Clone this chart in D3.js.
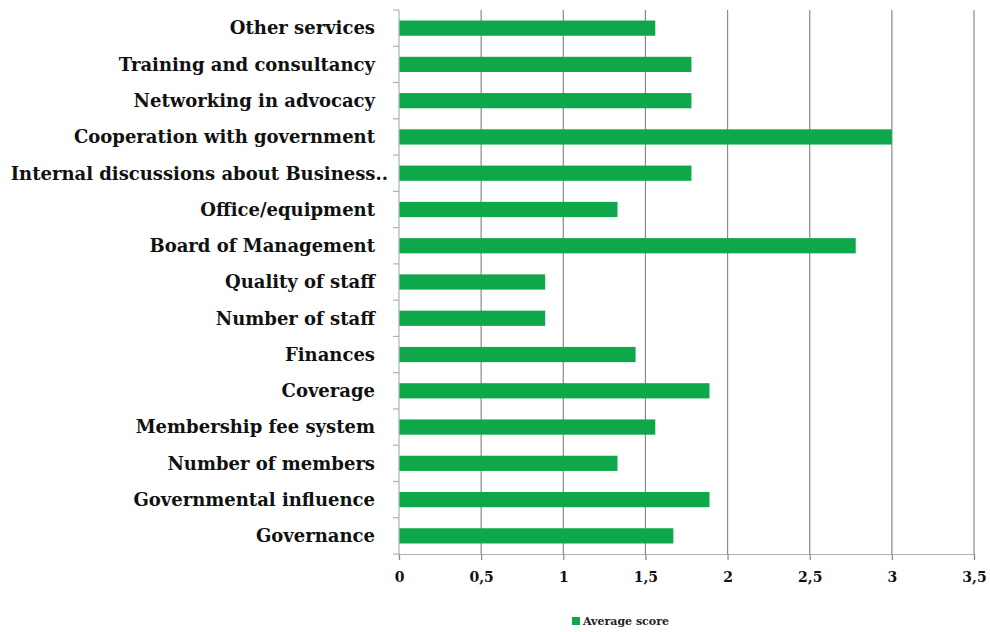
<!DOCTYPE html>
<html>
<head>
<meta charset="utf-8">
<script src="https://cdn.jsdelivr.net/npm/d3@7"></script>
<style>
  html, body { margin: 0; padding: 0; background: #fff; }
  svg { display: block; }
</style>
</head>
<body>
<div id="chart"></div>
<script>
// categories top to bottom as drawn
const categories = [
  'Other services',
  'Training and consultancy',
  'Networking in advocacy',
  'Cooperation with government',
  'Internal discussions about Business..',
  'Office/equipment',
  'Board of Management',
  'Quality of staff',
  'Number of staff',
  'Finances',
  'Coverage',
  'Membership fee system',
  'Number of members',
  'Governmental influence',
  'Governance'
];
const averageScore = [1.56, 1.78, 1.78, 3.0, 1.78, 1.33, 2.78, 0.89, 0.89, 1.44, 1.89, 1.56, 1.33, 1.89, 1.67];
const xTicks = [0, 0.5, 1, 1.5, 2, 2.5, 3, 3.5];
const seriesName = 'Average score';

const W = 990, H = 632;
const margin = { top: 10, right: 16, bottom: 78, left: 399 };
const green = '#0ea84a';
const serif = '"DejaVu Serif", "Liberation Serif", serif';

const svg = d3.select('#chart').append('svg')
  .attr('width', W)
  .attr('height', H);

const x = d3.scaleLinear()
  .domain([0, 3.5])
  .range([margin.left, W - margin.right]);

const y = d3.scaleBand()
  .domain(categories)
  .range([margin.top, H - margin.bottom])
  .paddingInner(0.58)
  .paddingOuter(0.29);

const yStep = y.step();
const plotBottom = H - margin.bottom;

// vertical gridlines
svg.append('g')
  .selectAll('line')
  .data(xTicks.filter(d => d > 0))
  .enter().append('line')
  .attr('x1', d => x(d)).attr('x2', d => x(d))
  .attr('y1', margin.top).attr('y2', plotBottom)
  .attr('stroke', '#8a8a8a')
  .attr('stroke-width', 1.2);

// bars
svg.append('g')
  .selectAll('rect')
  .data(categories.map((c, i) => ({ label: c, value: averageScore[i] })))
  .enter().append('rect')
  .attr('x', x(0))
  .attr('y', d => y(d.label))
  .attr('width', d => x(d.value) - x(0))
  .attr('height', y.bandwidth())
  .attr('fill', green);

// x axis
const xAxis = svg.append('g')
  .attr('transform', `translate(0,${plotBottom})`)
  .call(d3.axisBottom(x).tickValues(xTicks).tickSize(6).tickPadding(12)
    .tickFormat(d => String(d).replace('.', ',')));
xAxis.select('.domain').attr('stroke', '#a9b4bc').attr('stroke-width', 1.2);
xAxis.selectAll('.tick line').attr('stroke', '#8a8a8a').attr('stroke-width', 1.2);
xAxis.selectAll('.tick text')
  .attr('font-family', serif)
  .attr('font-weight', 'bold')
  .attr('font-size', 14)
  .attr('fill', '#111');

// y axis line + ticks at band boundaries
const yAxis = svg.append('g');
yAxis.append('line')
  .attr('x1', x(0)).attr('x2', x(0))
  .attr('y1', margin.top).attr('y2', plotBottom)
  .attr('stroke', '#a9b4bc').attr('stroke-width', 1.2);
yAxis.selectAll('line.tk')
  .data(d3.range(categories.length + 1))
  .enter().append('line')
  .attr('class', 'tk')
  .attr('x1', x(0) - 6).attr('x2', x(0))
  .attr('y1', i => margin.top + i * yStep)
  .attr('y2', i => margin.top + i * yStep)
  .attr('stroke', '#a9b4bc').attr('stroke-width', 1.2);

// category labels
svg.append('g')
  .selectAll('text')
  .data(categories)
  .enter().append('text')
  .attr('x', d => d.endsWith('..') ? 388 : 375)
  .attr('y', d => y(d) + y.bandwidth() / 2)
  .attr('dy', '0.35em')
  .attr('text-anchor', 'end')
  .attr('font-family', serif)
  .attr('font-weight', 'bold')
  .attr('font-size', 18)
  .attr('fill', '#111')
  .text(d => d);

// legend
const legend = svg.append('g').attr('transform', 'translate(572,617)');
legend.append('rect')
  .attr('width', 8).attr('height', 8)
  .attr('fill', green);
legend.append('text')
  .attr('x', 11).attr('y', 4)
  .attr('dy', '0.35em')
  .attr('font-family', serif)
  .attr('font-weight', 'bold')
  .attr('font-size', 11)
  .attr('fill', '#222')
  .text(seriesName);
</script>
</body>
</html>
